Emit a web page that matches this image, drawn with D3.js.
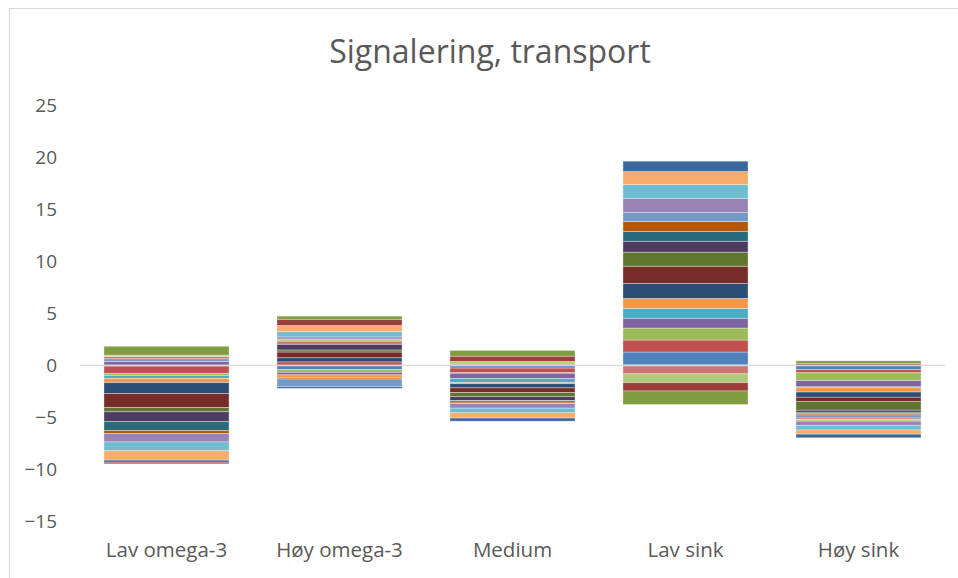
<!DOCTYPE html>
<html>
<head>
<meta charset="utf-8">
<script src="https://cdn.jsdelivr.net/npm/d3@7"></script>
<style>
  html, body { margin: 0; padding: 0; background: #fff; }
  svg { display: block; }
  text { font-family: "Open Sans", sans-serif; fill: #595959; }
</style>
</head>
<body>
<svg id="chart" width="958" height="578"></svg>
<script>
// ---- Data ----
const title = "Signalering, transport";
const categories = ["Lav omega-3", "Høy omega-3", "Medium", "Lav sink", "Høy sink"];
const yTicks = [-15, -10, -5, 0, 5, 10, 15, 20, 25];

// One array per series, values per category (in order above)
const serie1  = [-0.10, -0.45, -0.30, 1.25, -0.45];
const serie2  = [-0.70,  0.30, -0.45, 1.15, -0.30];
const serie3  = [-0.20, -0.25, -0.05, 1.15, -0.75];
const serie4  = [ 0.35, -0.25, -0.50, 0.95, -0.60];
const serie5  = [-0.30,  0.00, -0.40, 0.95, -0.10];
const serie6  = [-0.40, -0.30, -0.10, 0.95, -0.40];
const serie7  = [-1.05,  0.40, -0.40, 1.45, -0.50];
const serie8  = [-1.35,  0.55, -0.45, 1.65, -0.40];
const serie9  = [-0.40,  0.20, -0.40, 1.35, -0.85];
const serie10 = [-0.95,  0.55, -0.35, 1.05, -0.20];
const serie11 = [-0.85,  0.00, -0.05, 0.95, -0.10];
const serie12 = [-0.30, -0.10, -0.20, 0.95, -0.15];
const serie13 = [ 0.25, -0.75, -0.05, 0.85, -0.30];
const serie14 = [ 0.20,  0.30,  0.10, -0.85, -0.15];
const serie15 = [ 0.15,  0.20,  0.25, -0.85, -0.15];
const serie16 = [-0.80,  0.20, -0.45, 1.35, -0.40];
const serie17 = [-0.85,  0.50, -0.45, 1.35, -0.45];
const serie18 = [-0.90,  0.60, -0.50, 1.25, -0.40];
const serie19 = [-0.20, -0.15, -0.30, 1.00, -0.35];
const serie20 = [-0.15,  0.60,  0.50, -0.80, 0.15];
const serie21 = [ 0.85,  0.30,  0.55, -1.30, 0.25];

const seriesList = [serie1, serie2, serie3, serie4, serie5, serie6, serie7, serie8, serie9, serie10,
  serie11, serie12, serie13, serie14, serie15, serie16, serie17, serie18, serie19, serie20, serie21];
const seriesNames = seriesList.map((_, i) => "Serie " + (i + 1));

const colors = ["#4F81BD", "#C0504D", "#9BBB59", "#8064A2", "#4BACC6", "#F79646",
  "#2C4D75", "#772C2A", "#5F7530", "#4D3B62", "#276A7C", "#B65708",
  "#729ACA", "#CD7371", "#AFC97A", "#9983B5", "#6FBDD1", "#F9AB6B",
  "#3A679C", "#9E3E3B", "#7E9C40"];

// ---- Build table ----
const table = categories.map((c, ci) => {
  const row = { category: c };
  seriesNames.forEach((n, si) => { row[n] = seriesList[si][ci]; });
  return row;
});

const svg = d3.select("#chart");

// chart frame
svg.append("rect")
  .attr("x", 9.5).attr("y", 8.5)
  .attr("width", 970).attr("height", 600)
  .attr("fill", "#fff").attr("stroke", "#d9d9d9").attr("stroke-width", 1);

const plot = { left: 80, right: 945, top: 105, bottom: 521 };

const x = d3.scaleBand()
  .domain(categories)
  .range([plot.left, plot.right])
  .paddingInner(0.277)
  .paddingOuter(0.1385);

const y = d3.scaleLinear()
  .domain([-15, 25])
  .range([plot.bottom, plot.top]);

// title
svg.append("text")
  .attr("x", 490).attr("y", 63)
  .attr("text-anchor", "middle")
  .style("font-size", "32px")
  .text(title);

// y axis labels
const yAxis = d3.axisLeft(y).tickValues(yTicks).tickSize(0).tickPadding(0).tickFormat(d3.format("d"));
const gy = svg.append("g").attr("transform", "translate(57,0)").call(yAxis);
gy.select(".domain").remove();
gy.selectAll("text").style("font-size", "19px").style("font-family", "'Open Sans', sans-serif").attr("fill", "#595959");

// stacks
const stack = d3.stack().keys(seriesNames).offset(d3.stackOffsetDiverging);
const stacked = stack(table);

const gBars = svg.append("g");
gBars.selectAll("g.series")
  .data(stacked)
  .join("g")
  .attr("class", "series")
  .attr("fill", (d, i) => colors[i])
  .selectAll("rect")
  .data(d => d)
  .join("rect")
  .attr("x", d => x(d.data.category))
  .attr("width", x.bandwidth())
  .attr("y", d => y(Math.max(d[0], d[1])))
  .attr("height", d => Math.abs(y(d[0]) - y(d[1])))
  .attr("stroke", "#ffffff")
  .attr("stroke-opacity", 0.45)
  .attr("stroke-width", 0.75);

// zero line
svg.append("line")
  .attr("x1", plot.left).attr("x2", plot.right)
  .attr("y1", Math.round(y(0)) + 0.5).attr("y2", Math.round(y(0)) + 0.5)
  .attr("stroke", "#d9d9d9").attr("stroke-width", 1.5);

// category labels
const xAxis = d3.axisBottom(x).tickSize(0).tickPadding(0);
const gx = svg.append("g").attr("transform", "translate(0,542)").call(xAxis);
gx.select(".domain").remove();
gx.selectAll("text").style("font-size", "20.5px").style("font-family", "'Open Sans', sans-serif").attr("fill", "#595959");
</script>
</body>
</html>
